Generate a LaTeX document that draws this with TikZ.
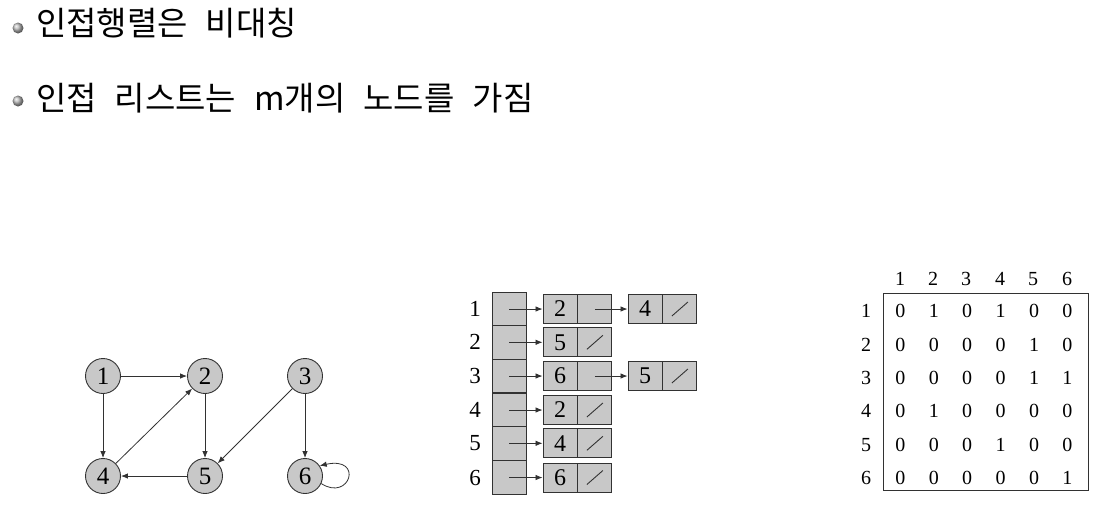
\documentclass[tikz,border=0pt]{standalone}
\usepackage{fontspec}
\setmainfont{Liberation Serif}
\newfontfamily\kr{Noto Sans CJK KR}
\usetikzlibrary{arrows.meta}
\definecolor{nodegray}{RGB}{200,200,200}
\definecolor{linegray}{RGB}{50,50,50}
\newcommand{\wsp}{\hspace{18pt}}
\tikzset{
  gnode/.style={circle,draw=linegray,fill=nodegray,line width=0.9pt,minimum size=35pt,inner sep=0pt,font=\fontsize{25}{25}\selectfont},
  arr/.style={draw=linegray,line width=0.8pt,-{Latex[length=7pt,width=5.5pt]}},
  arrcell/.style={rectangle,draw=linegray,fill=nodegray,line width=0.9pt,minimum width=34pt,minimum height=33.6pt,inner sep=0pt},
  lcell/.style={rectangle,draw=linegray,fill=nodegray,line width=0.9pt,minimum width=34pt,minimum height=29pt,inner sep=0pt,font=\fontsize{24}{24}\selectfont},
  rlabel/.style={font=\fontsize{23}{23}\selectfont,inner sep=0pt},
  mnum/.style={font=\fontsize{20}{20}\selectfont,inner sep=0pt},
  slash/.style={draw=linegray,line width=0.9pt},
  bullet/.style={circle,inner sep=0pt,minimum size=11pt,shading=ball,ball color=gray!55},
  title/.style={anchor=west,inner sep=0pt,font=\kr\fontsize{33}{33}\selectfont}
}
\begin{document}
\begin{tikzpicture}[x=1pt,y=-1pt]
\useasboundingbox (0,0) rectangle (1106,520);
% titles
\node[bullet] (b1) at (18,28) {};
\node[title] (t1) at (36,23) {인접행렬은\wsp 비대칭};
\node[bullet] (b2) at (18,101) {};
\node[title] (t2) at (36,98) {인접\wsp 리스트는\wsp m개의\wsp 노드를\wsp 가짐};
% graph
\node[gnode] (n1) at (103,376) {1};
\node[gnode] (n2) at (205,376) {2};
\node[gnode] (n3) at (305,376) {3};
\node[gnode] (n4) at (103,476) {4};
\node[gnode] (n5) at (205,476) {5};
\node[gnode] (n6) at (305,476) {6};
\draw[arr] (n1) -- (n2);
\draw[arr] (n1) -- (n4);
\draw[arr] (n4) -- (n2);
\draw[arr] (n2) -- (n5);
\draw[arr] (n5) -- (n4);
\draw[arr] (n3) -- (n5);
\draw[arr] (n3) -- (n6);
\draw[arr] (n6.-25) .. controls (350,502) and (364,456) .. (n6.35);
% adjacency list
\foreach \i/\y in {1/309,2/342.3,3/376,4/410,5/443.3,6/477.5}{
  \node[rlabel] (l\i) at (475,\y) {\i};
  \node[arrcell] (a\i) at (509,\y) {};
}
\foreach \i/\v/\y in {1/2/309,2/5/342.3,3/6/376,4/2/410,5/4/443.3,6/6/477.5}{
  \node[lcell] (p\i) at (560,\y) {\v};
  \node[lcell,anchor=west] (q\i) at (p\i.east) {};
  \draw[arr] (a\i.center) -- (p\i.west);
}
\foreach \i in {2,4,5,6}{
  \draw[slash] ([xshift=-8pt,yshift=-7pt]q\i.center) -- ([xshift=8pt,yshift=7pt]q\i.center);
}
\node[lcell] (r1) at (645,309) {4};
\node[lcell,anchor=west] (s1) at (r1.east) {};
\node[lcell] (r3) at (645,376) {5};
\node[lcell,anchor=west] (s3) at (r3.east) {};
\draw[slash] ([xshift=-8pt,yshift=-7pt]s1.center) -- ([xshift=8pt,yshift=7pt]s1.center);
\draw[slash] ([xshift=-8pt,yshift=-7pt]s3.center) -- ([xshift=8pt,yshift=7pt]s3.center);
\draw[arr] (q1.center) -- (r1.west);
\draw[arr] (q3.center) -- (r3.west);
% matrix
\node[draw=linegray,line width=0.9pt,minimum width=205pt,minimum height=197pt,inner sep=0pt] (box) at (985.5,391.5) {};
\foreach \j/\x in {1/900,2/933,3/966,4/1000,5/1033,6/1067}{
  \node[mnum] (h\j) at (\x,279) {\j};
}
\foreach \i/\y/\r in {1/311/{0,1,0,1,0,0},2/345/{0,0,0,0,1,0},3/378/{0,0,0,0,1,1},4/411/{0,1,0,0,0,0},5/445/{0,0,0,1,0,0},6/478/{0,0,0,0,0,1}}{
  \node[mnum] (rl\i) at (866,\y) {\i};
  \foreach \v [count=\j] in \r {
    \pgfmathsetmacro{\xx}{867+33.4*\j}
    \node[mnum] (m\i\j) at (\xx,\y) {\v};
  }
}
\end{tikzpicture}
\end{document}
